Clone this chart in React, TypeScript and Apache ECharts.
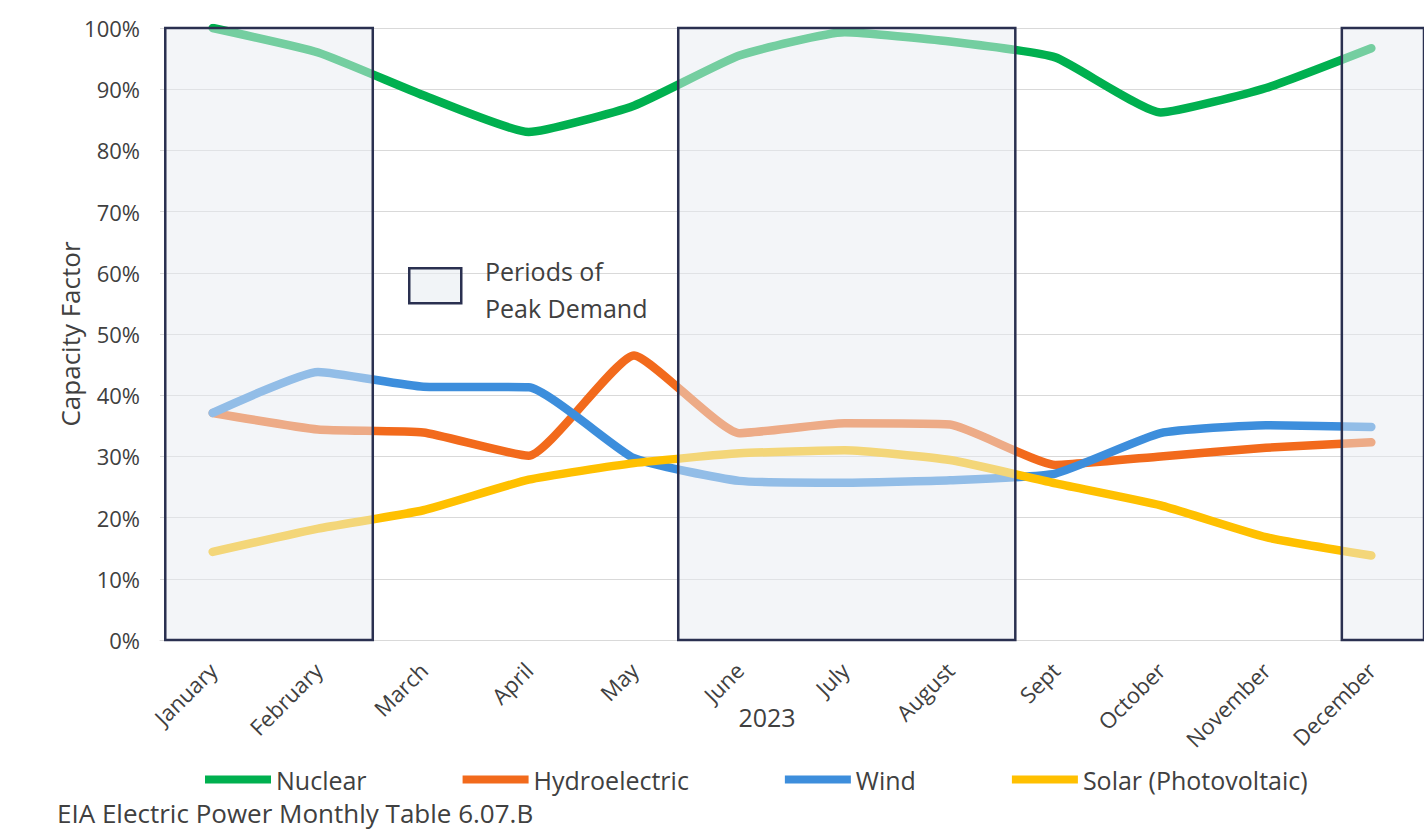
import React, { useEffect, useRef } from "react";
import * as echarts from "echarts";

const months = ["January", "February", "March", "April", "May", "June", "July", "August", "Sept", "October", "November", "December"];
const nuclear = [100, 96, 89, 83, 87.3, 95.5, 99.3, 97.8, 95.2, 86.2, 90.2, 96.7];
const hydro = [37.1, 34.4, 33.9, 30.1, 46.5, 33.8, 35.4, 35.2, 28.6, 30.0, 31.4, 32.3];
const wind = [37.1, 43.8, 41.4, 41.3, 29.7, 26.0, 25.7, 26.1, 27.2, 33.8, 35.1, 34.8];
const solar = [14.4, 18.2, 21.2, 26.2, 28.9, 30.5, 31.0, 29.4, 25.6, 22.0, 16.8, 13.8];
// peak-demand periods, in category-index units (band edges at +/-0.5)
const peakPeriods = [
  [-0.45, 1.52],
  [4.42, 7.62],
  [10.72, 11.7],
];
const seriesNames = ["Nuclear", "Hydroelectric", "Wind", "Solar (Photovoltaic)"];
const colors = ["#00B04F", "#F26A1C", "#3D8EDC", "#FFC000"];
const FONT = "Open Sans";

export default function App() {
  const ref = useRef<HTMLDivElement>(null);
  useEffect(() => {
    if (!ref.current) return;
    const chart = echarts.init(ref.current, null, { renderer: "svg" });
    const values = [nuclear, hydro, wind, solar];
    const lineSeries = values.map((d, i) => ({
      name: seriesNames[i],
      type: "line",
      data: d,
      smooth: 0.15,
      showSymbol: false,
      symbol: "none",
      z: 2 + i,
      lineStyle: { width: 8.5, color: colors[i], cap: "round", join: "round" },
      itemStyle: { color: colors[i] },
    }));
    chart.setOption({
      animation: false,
      backgroundColor: "#ffffff",
      color: colors,
      grid: { left: 160, right: -7, top: 28, bottom: 192 },
      legend: {
        data: seriesNames,
        left: 200,
        top: 762,
        icon: "rect",
        itemWidth: 66,
        itemHeight: 8,
        itemGap: 96,
        textStyle: { fontFamily: FONT, fontSize: 25, color: "#404040" },
      },
      xAxis: [
        {
          type: "category",
          data: months,
          boundaryGap: true,
          axisLine: { show: true, lineStyle: { color: "#d9d9d9" } },
          axisTick: { show: false },
          axisLabel: { rotate: 45, margin: 26, fontFamily: FONT, fontSize: 22, color: "#404040", interval: 0 },
          name: "2023",
          nameLocation: "middle",
          nameGap: 64,
          nameMoveOverlap: false,
          nameTextStyle: { fontFamily: FONT, fontSize: 25, color: "#404040", padding: [0, 50, 0, 0] },
        },
        {
          type: "value",
          min: -0.5,
          max: 11.5,
          show: false,
        },
      ],
      yAxis: {
        type: "value",
        min: 0,
        max: 100,
        interval: 10,
        axisLine: { show: false },
        axisTick: { show: false },
        axisLabel: { formatter: "{value}%", fontFamily: FONT, fontSize: 22, color: "#404040", margin: 20 },
        splitLine: { lineStyle: { color: "#d9d9d9", width: 1 } },
        name: "Capacity Factor",
        nameLocation: "middle",
        nameGap: 77,
        nameMoveOverlap: false,
        nameTextStyle: { fontFamily: FONT, fontSize: 26, color: "#404040" },
      },
      series: [
        ...lineSeries,
        {
          name: "peak",
          type: "line",
          xAxisIndex: 1,
          data: [],
          z: 20,
          markArea: {
            z: 20,
            silent: true,
            label: { show: false },
            itemStyle: {
              color: "rgba(232,236,241,0.5)",
              borderColor: "#2A3050",
              borderWidth: 2.5,
            },
            data: peakPeriods.map(([a, b]) => [
              { xAxis: a, yAxis: 100.2 },
              { xAxis: b, yAxis: -0.3 },
            ]),
          },
        },
      ],
      graphic: [
        {
          type: "rect",
          left: 408,
          top: 267,
          shape: { width: 52, height: 35 },
          style: { fill: "rgba(232,236,241,0.6)", stroke: "#2A3050", lineWidth: 2.5 },
          z: 30,
        },
        {
          type: "text",
          left: 485,
          top: 252,
          style: {
            text: "Periods of\nPeak Demand",
            font: `25px "${FONT}"`,
            fill: "#404040",
            lineHeight: 37,
          },
          z: 30,
        },
        {
          type: "text",
          left: 57,
          top: 800,
          style: {
            text: "EIA Electric Power Monthly Table 6.07.B",
            font: `26px "${FONT}"`,
            fill: "#404040",
          },
          z: 30,
        },
      ],
    });
    return () => chart.dispose();
  }, []);
  return (
    <div
      ref={ref}
      style={{ position: "absolute", left: 0, top: 0, width: 1424, height: 832 }}
    />
  );
}
